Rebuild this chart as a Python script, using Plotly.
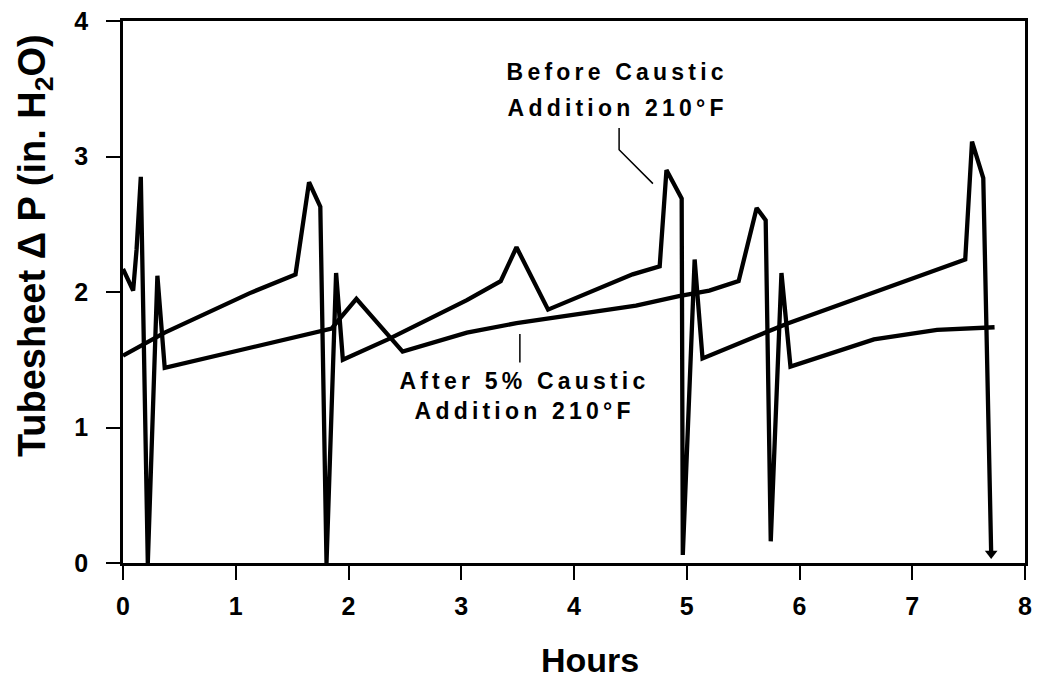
import plotly.graph_objects as go

# ---- data ----
hours_after = [0, 0.09, 0.12, 0.158, 0.22, 0.305, 0.37, 1.47, 1.85, 1.91, 2.07, 2.48, 3.05, 3.49,
               4.55, 4.93, 5.20, 5.46, 5.62, 5.70, 5.745, 5.84, 5.92, 6.66, 7.22, 7.73]
dp_after = [2.17, 2.01, 2.31, 2.85, 0.0, 2.12, 1.44, 1.65, 1.73, 1.79, 1.95, 1.56, 1.70, 1.77,
            1.90, 1.97, 2.01, 2.08, 2.62, 2.53, 0.16, 2.14, 1.45, 1.65, 1.72, 1.74]

hours_before = [0, 0.37, 1.12, 1.53, 1.65, 1.75, 1.805, 1.89, 1.95, 2.35, 3.05, 3.35, 3.49, 3.77,
                4.52, 4.76, 4.82, 4.955, 4.965, 5.07, 5.14, 5.90, 7.47, 7.53, 7.63, 7.70]
dp_before = [1.53, 1.70, 1.99, 2.13, 2.81, 2.63, 0.0, 2.14, 1.50, 1.65, 1.94, 2.08, 2.33, 1.87,
             2.13, 2.19, 2.90, 2.69, 0.06, 2.24, 1.51, 1.77, 2.24, 3.11, 2.84, 0.07]

x_ticks = [0, 1, 2, 3, 4, 5, 6, 7, 8]
y_ticks = [0, 1, 2, 3, 4]

# leader lines for the two labels
before_leader_x = [4.40, 4.40, 4.70]
before_leader_y = [3.21, 3.05, 2.80]
after_leader_x = [3.52, 3.52]
after_leader_y = [1.69, 1.48]

label_font = dict(family="Liberation Sans, Arial, sans-serif", size=23, color="black", weight="bold")

fig = go.Figure()
fig.add_trace(go.Scatter(x=hours_after, y=dp_after, mode="lines",
                         line=dict(color="black", width=4.3), name="After 5% Caustic Addition 210°F",
                         hoverinfo="skip"))
fig.add_trace(go.Scatter(x=hours_before, y=dp_before, mode="lines",
                         line=dict(color="black", width=4.3), name="Before Caustic Addition 210°F",
                         hoverinfo="skip"))
# arrow head at the end of the "before" run
fig.add_trace(go.Scatter(x=hours_before[-1:], y=dp_before[-1:], mode="markers",
                         marker=dict(symbol="triangle-down", size=11, color="black"),
                         cliponaxis=False, hoverinfo="skip", showlegend=False))
fig.add_trace(go.Scatter(x=before_leader_x, y=before_leader_y, mode="lines",
                         line=dict(color="black", width=1.5), hoverinfo="skip"))
fig.add_trace(go.Scatter(x=after_leader_x, y=after_leader_y, mode="lines",
                         line=dict(color="black", width=1.5), hoverinfo="skip"))

ann = [
    dict(x=4.39, y=3.62, text="Before Caustic"),
    dict(x=4.39, y=3.36, text="Addition 210°F"),
    dict(x=3.56, y=1.34, text="After 5% Caustic"),
    dict(x=3.56, y=1.12, text="Addition 210°F"),
]
for a in ann:
    fig.add_annotation(x=a["x"], y=a["y"], xref="x", yref="y", text=a["text"],
                       showarrow=False, font=label_font, xanchor="center", yanchor="middle")

fig.add_annotation(x=-0.0968, y=0.586, xref="paper", yref="paper",
                   text="Tubesheet Δ P (in. H<sub>2</sub>O)", textangle=-90, showarrow=False,
                   font=dict(family="Liberation Sans, Arial, sans-serif", size=38, color="black", weight="bold"),
                   xanchor="center", yanchor="middle")
fig.add_annotation(x=0.518, y=-0.179, xref="paper", yref="paper", text="Hours", showarrow=False,
                   font=dict(family="Liberation Sans, Arial, sans-serif", size=34, color="black", weight="bold"),
                   xanchor="center", yanchor="middle")

axis_common = dict(showgrid=False, zeroline=False, showline=True, linecolor="black", linewidth=2.5,
                   mirror=True, ticks="outside", ticklen=14, tickwidth=2, tickcolor="black",
                   tickfont=dict(family="Liberation Sans, Arial, sans-serif", size=25, color="black", weight="bold"))
fig.update_xaxes(range=[0, 8], tickvals=x_ticks, ticktext=[str(v) for v in x_ticks],
                 ticklabelstandoff=5, **axis_common)
fig.update_yaxes(range=[0, 4], tickvals=y_ticks, ticktext=[str(v) for v in y_ticks],
                 ticklabelstandoff=13, **axis_common)

fig.update_layout(width=1039, height=678, margin=dict(l=123, r=7, t=20, b=115),
                  paper_bgcolor="white", plot_bgcolor="white", showlegend=False)

post = """
function spaceLabels(){
  document.querySelectorAll('.annotation-text').forEach(function(e){
    var t = e.textContent || '';
    if (t.indexOf('Caustic') >= 0 || t.indexOf('Addition') >= 0) { e.style.letterSpacing = '4.2px'; }
  });
}
spaceLabels();
setTimeout(spaceLabels, 0);
setTimeout(spaceLabels, 200);
"""
fig.write_html("out.html", post_script=post)
